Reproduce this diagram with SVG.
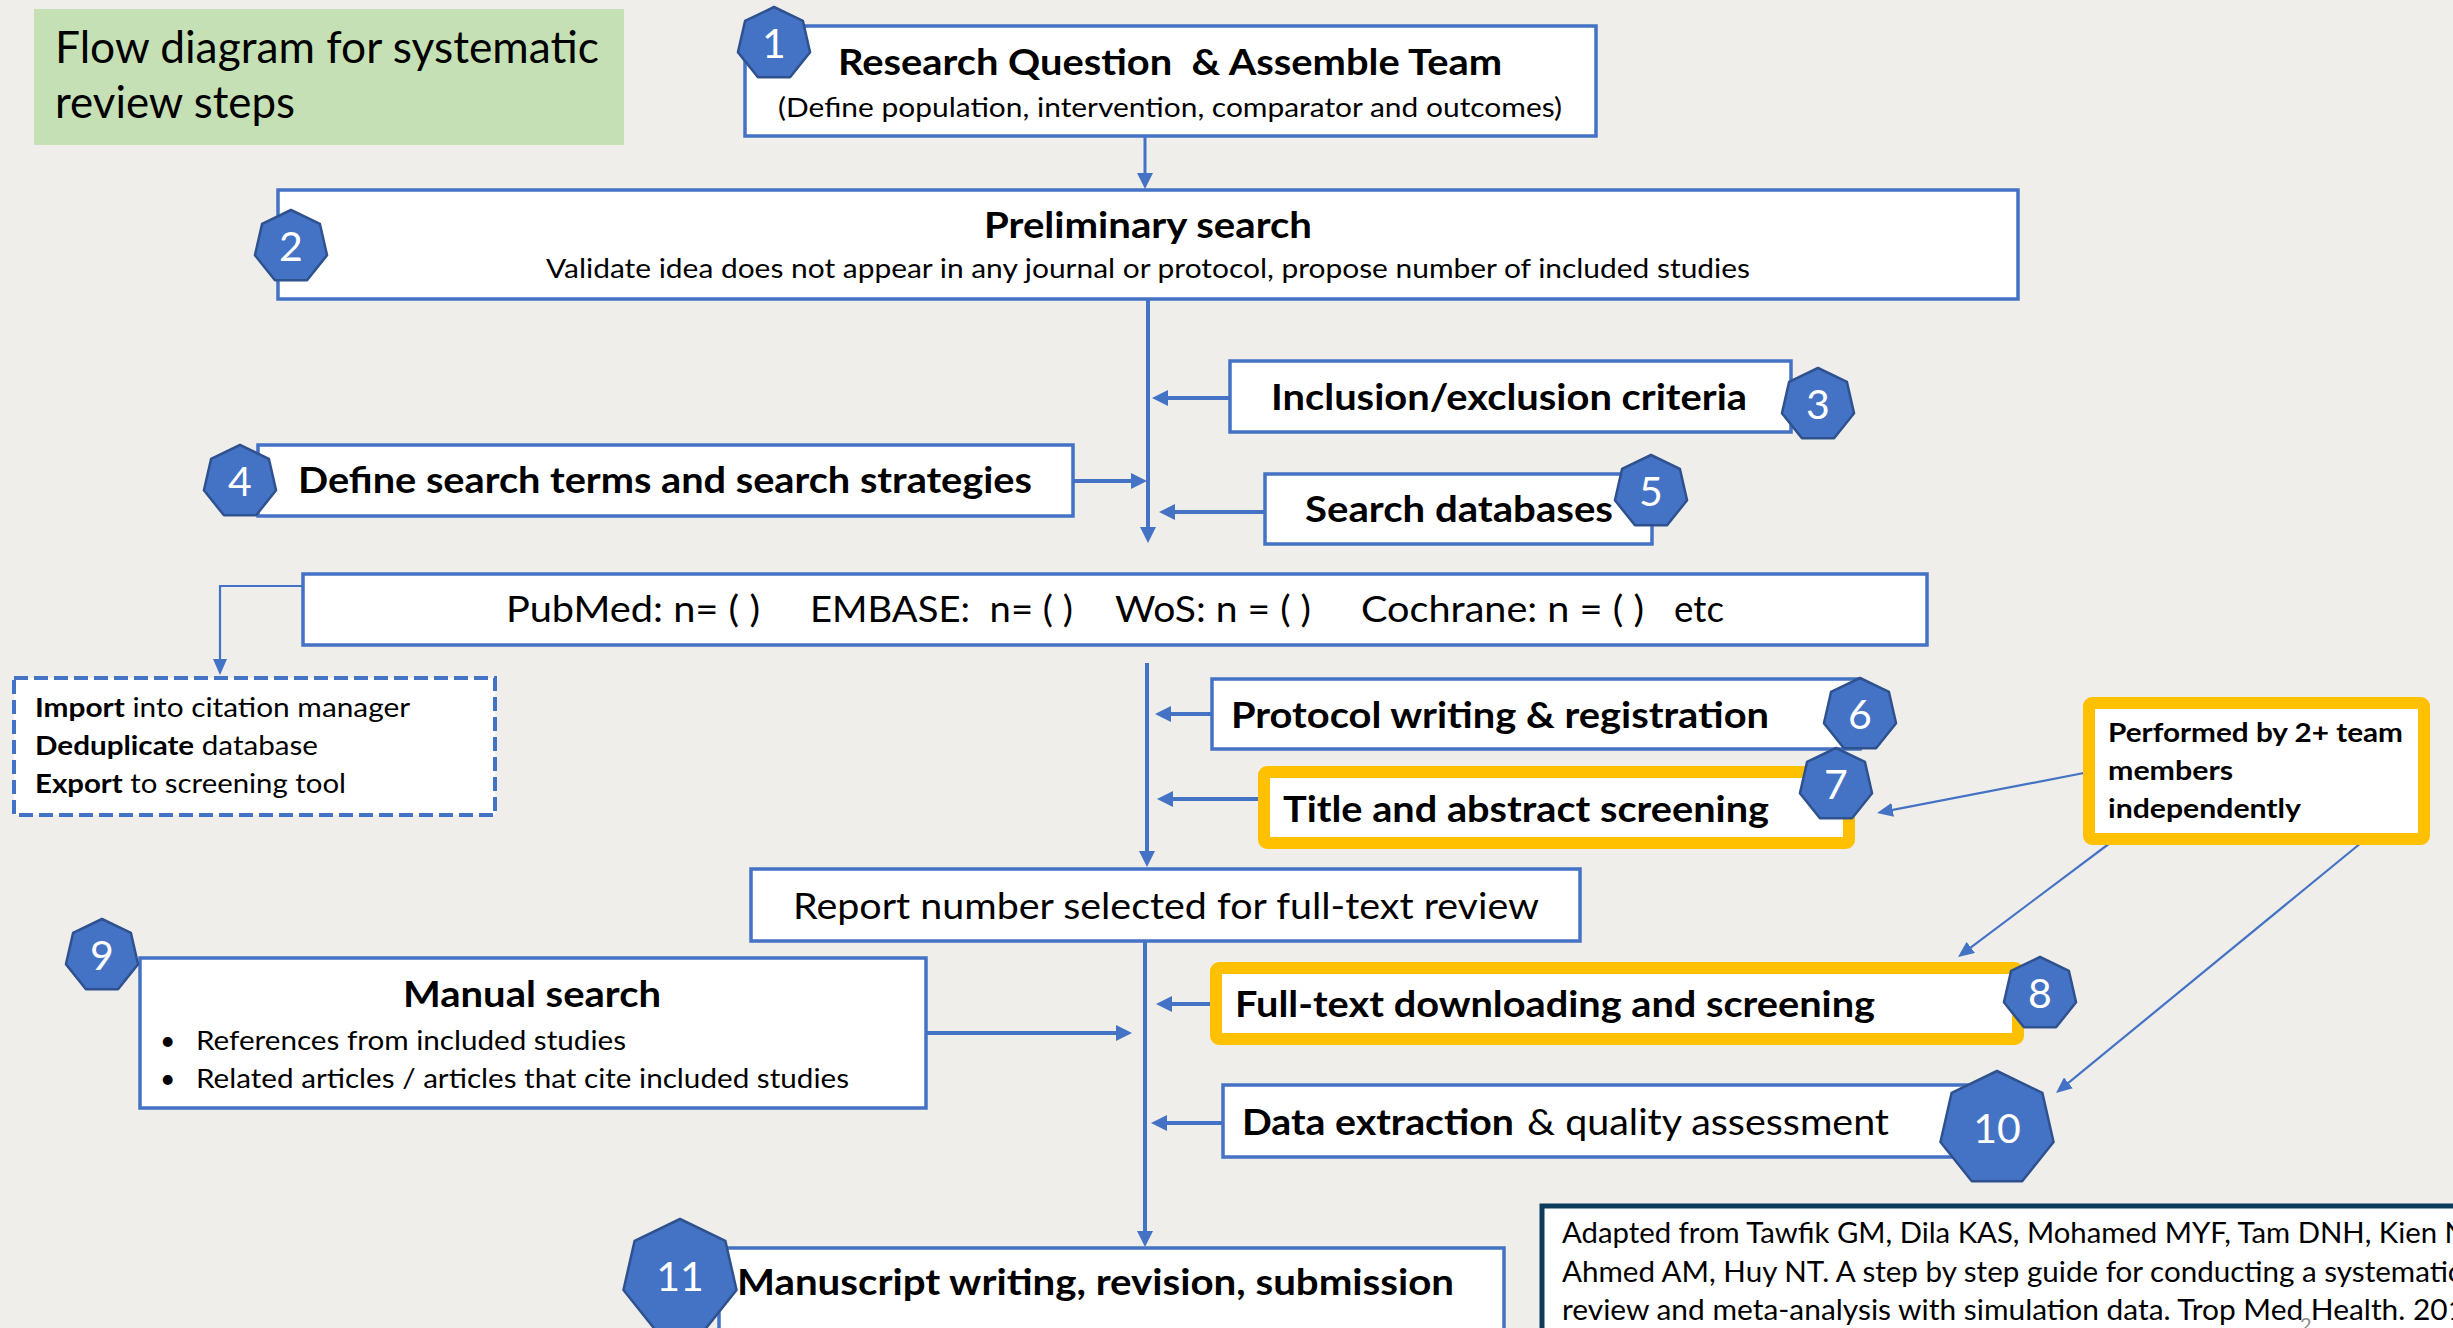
<svg xmlns="http://www.w3.org/2000/svg" width="2453" height="1328" viewBox="0 0 2453 1328">
<style>
.bx{fill:#fff;stroke:#4472C4;stroke-width:3.5}
.yb{fill:#fff;stroke:#FFC000;stroke-width:12}
.hp{fill:#4472C4;stroke:#2F528F;stroke-width:2.5;stroke-linejoin:round}
.num{font-family:Lato,"Open Sans","DejaVu Sans",sans-serif;font-size:41px;fill:#fff;text-anchor:middle}
.t{font-family:Lato,"Open Sans","DejaVu Sans",sans-serif;fill:#000}
.b{font-weight:700}
.l{font-size:37px}
.s{font-size:26.5px}
.c{fill:none;stroke:#4472C4;stroke-width:4}
.cn{fill:none;stroke:#4472C4;stroke-width:2.2}
</style>
<defs>
<marker id="ah" markerUnits="userSpaceOnUse" markerWidth="16" markerHeight="16" refX="6" refY="8" orient="auto"><path d="M0,0 L16,8 L0,16 z" fill="#4472C4"/></marker>
<marker id="ahs" markerUnits="userSpaceOnUse" markerWidth="16" markerHeight="14" refX="4" refY="7" orient="auto"><path d="M0,0 L16,7 L0,14 z" fill="#4472C4"/></marker>
<path id="hs" class="hp" d="M0,-37 L28.93,-23.07 L36.07,8.23 L16.05,33.34 L-16.05,33.34 L-36.07,8.23 L-28.93,-23.07 Z"/>
<path id="hb" class="hp" d="M0,-58 L45.35,-36.16 L56.55,12.91 L25.17,52.26 L-25.17,52.26 L-56.55,12.91 L-45.35,-36.16 Z"/>
</defs>
<rect width="2453" height="1328" fill="#EFEEEB"/>

<g id="title">
<rect x="34" y="9" width="590" height="136" fill="#C5E0B4"/>
<text class="t" x="55" y="63" font-size="44" textLength="544" lengthAdjust="spacingAndGlyphs">Flow diagram for systematic</text>
<text class="t" x="55" y="118" font-size="44" textLength="240" lengthAdjust="spacingAndGlyphs">review steps</text>
</g>

<g id="connectors">
<path class="c" style="stroke-width:3" d="M1145,136 V179" marker-end="url(#ah)"/>
<path class="c" d="M1148,299 V533" marker-end="url(#ah)"/>
<path class="c" d="M1230,398 H1162" marker-end="url(#ah)"/>
<path class="c" d="M1073,481 H1137" marker-end="url(#ah)"/>
<path class="c" d="M1265,512 H1169" marker-end="url(#ah)"/>
<path class="cn" d="M303,586 H220 V663" marker-end="url(#ahs)"/>
<path class="c" d="M1147,663 V857" marker-end="url(#ah)"/>
<path class="c" d="M1212,714 H1165" marker-end="url(#ah)"/>
<path class="c" d="M1258,799 H1167" marker-end="url(#ah)"/>
<path class="cn" d="M2089,772 L1888.8,810.7" marker-end="url(#ahs)"/>
<path class="cn" d="M2110,843 L1967.6,949.8" marker-end="url(#ahs)"/>
<path class="cn" d="M2367,838 L2065.3,1085.4" marker-end="url(#ahs)"/>
<path class="c" d="M1145,942 V1237" marker-end="url(#ah)"/>
<path class="c" d="M926,1033 H1122" marker-end="url(#ah)"/>
<path class="c" d="M1210,1004 H1166" marker-end="url(#ah)"/>
<path class="c" d="M1223,1123 H1161" marker-end="url(#ah)"/>
</g>

<g id="n1">
<rect class="bx" x="745" y="26" width="851" height="110"/>
<text class="t b l" x="838" y="75" textLength="664" lengthAdjust="spacingAndGlyphs" xml:space="preserve">Research Question  &amp; Assemble Team</text>
<text class="t s" x="778" y="117" textLength="784" lengthAdjust="spacingAndGlyphs">(Define population, intervention, comparator and outcomes)</text>
<use href="#hs" x="774" y="44"/>
<text class="num" x="774" y="58">1</text>
</g>

<g id="n2">
<rect class="bx" x="278" y="190" width="1740" height="109"/>
<text class="t b l" x="984" y="238" textLength="328" lengthAdjust="spacingAndGlyphs">Preliminary search</text>
<text class="t s" x="546" y="278" textLength="1204" lengthAdjust="spacingAndGlyphs">Validate idea does not appear in any journal or protocol, propose number of included studies</text>
<use href="#hs" x="291" y="247"/>
<text class="num" x="291" y="261">2</text>
</g>

<g id="n3">
<rect class="bx" x="1230" y="361" width="561" height="71"/>
<text class="t b l" x="1271" y="410" textLength="476" lengthAdjust="spacingAndGlyphs">Inclusion/exclusion criteria</text>
<use href="#hs" x="1818" y="405"/>
<text class="num" x="1818" y="419">3</text>
</g>

<g id="n4">
<rect class="bx" x="258" y="445" width="815" height="71"/>
<text class="t b l" x="298" y="493" textLength="734" lengthAdjust="spacingAndGlyphs">Define search terms and search strategies</text>
<use href="#hs" x="240" y="482"/>
<text class="num" x="240" y="496">4</text>
</g>

<g id="n5">
<rect class="bx" x="1265" y="474" width="387" height="70"/>
<text class="t b l" x="1305" y="522" textLength="308" lengthAdjust="spacingAndGlyphs">Search databases</text>
<use href="#hs" x="1651" y="492"/>
<text class="num" x="1651" y="506">5</text>
</g>

<g id="n-db">
<rect class="bx" x="303" y="574" width="1624" height="71"/>
<text class="t l" x="506" y="622" textLength="254" lengthAdjust="spacingAndGlyphs">PubMed: n= ( )</text>
<text class="t l" x="810" y="622" textLength="263" lengthAdjust="spacingAndGlyphs" xml:space="preserve">EMBASE:  n= ( )</text>
<text class="t l" x="1115" y="622" textLength="196" lengthAdjust="spacingAndGlyphs">WoS: n = ( )</text>
<text class="t l" x="1361" y="622" textLength="283" lengthAdjust="spacingAndGlyphs">Cochrane: n = ( )</text>
<text class="t l" x="1674" y="622" textLength="50" lengthAdjust="spacingAndGlyphs">etc</text>
</g>

<g id="n-import">
<rect x="14" y="678" width="481" height="137" fill="#fff" stroke="#4472C4" stroke-width="4" stroke-dasharray="14 6"/>
<text class="t s" x="35" y="717" textLength="375" lengthAdjust="spacingAndGlyphs"><tspan class="b">Import</tspan> into citation manager</text>
<text class="t s" x="35" y="755" textLength="283" lengthAdjust="spacingAndGlyphs"><tspan class="b">Deduplicate</tspan> database</text>
<text class="t s" x="35" y="793" textLength="311" lengthAdjust="spacingAndGlyphs"><tspan class="b">Export</tspan> to screening tool</text>
</g>

<g id="n6">
<rect class="bx" x="1212" y="679" width="648" height="70"/>
<text class="t b l" x="1231" y="728" textLength="538" lengthAdjust="spacingAndGlyphs">Protocol writing &amp; registration</text>
<use href="#hs" x="1860" y="715"/>
<text class="num" x="1860" y="729">6</text>
</g>

<g id="n7">
<rect class="yb" x="1264" y="772" width="585" height="71" rx="3"/>
<text class="t b l" x="1283" y="822" textLength="486" lengthAdjust="spacingAndGlyphs">Title and abstract screening</text>
<use href="#hs" x="1836" y="785"/>
<text class="num" x="1836" y="799">7</text>
</g>

<g id="n-performed">
<rect class="yb" x="2089" y="703" width="335" height="136" rx="3"/>
<text class="t b s" x="2108" y="742" textLength="295" lengthAdjust="spacingAndGlyphs">Performed by 2+ team</text>
<text class="t b s" x="2108" y="780" textLength="125" lengthAdjust="spacingAndGlyphs">members</text>
<text class="t b s" x="2108" y="818" textLength="193" lengthAdjust="spacingAndGlyphs">independently</text>
</g>

<g id="n-report">
<rect class="bx" x="751" y="869" width="829" height="72"/>
<text class="t l" x="793" y="919" textLength="746" lengthAdjust="spacingAndGlyphs">Report number selected for full-text review</text>
</g>

<g id="n9">
<rect class="bx" x="140" y="958" width="786" height="150"/>
<text class="t b l" x="403" y="1007" textLength="258" lengthAdjust="spacingAndGlyphs">Manual search</text>
<text class="t s" x="160" y="1050">•</text>
<text class="t s" x="196" y="1050" textLength="430" lengthAdjust="spacingAndGlyphs">References from included studies</text>
<text class="t s" x="160" y="1088">•</text>
<text class="t s" x="196" y="1088" textLength="653" lengthAdjust="spacingAndGlyphs">Related articles / articles that cite included studies</text>
<use href="#hs" x="102" y="956"/>
<text class="num" x="102" y="970">9</text>
</g>

<g id="n8">
<rect class="yb" x="1216" y="968" width="802" height="71" rx="3"/>
<text class="t b l" x="1235" y="1017" textLength="640" lengthAdjust="spacingAndGlyphs">Full-text downloading and screening</text>
<use href="#hs" x="2040" y="994"/>
<text class="num" x="2040" y="1008">8</text>
</g>

<g id="n10">
<rect class="bx" x="1223" y="1085" width="752" height="72"/>
<text class="t b l" x="1242" y="1135" textLength="272" lengthAdjust="spacingAndGlyphs">Data extraction</text>
<text class="t l" x="1527" y="1135" textLength="362" lengthAdjust="spacingAndGlyphs">&amp; quality assessment</text>
<use href="#hb" x="1997" y="1129"/>
<text class="num" x="1997" y="1143">10</text>
</g>

<g id="n11">
<rect class="bx" x="719" y="1248" width="785" height="100"/>
<text class="t b l" x="737" y="1295" textLength="717" lengthAdjust="spacingAndGlyphs">Manuscript writing, revision, submission</text>
<use href="#hb" x="680" y="1277"/>
<text class="num" x="680" y="1291">11</text>
</g>

<g id="citation">
<rect x="1542" y="1206" width="930" height="140" fill="#fff" stroke="#0D3B5B" stroke-width="5"/>
<text class="t" font-size="28" x="1562" y="1243" textLength="905" lengthAdjust="spacingAndGlyphs">Adapted from Tawfik GM, Dila KAS, Mohamed MYF, Tam DNH, Kien N</text>
<text class="t" font-size="28" x="1562" y="1282" textLength="900" lengthAdjust="spacingAndGlyphs">Ahmed AM, Huy NT. A step by step guide for conducting a systematic</text>
<text class="t" font-size="28" x="1562" y="1320" textLength="903" lengthAdjust="spacingAndGlyphs">review and meta-analysis with simulation data. Trop Med Health. 201</text>
<text x="2300" y="1332" font-family="Lato, sans-serif" font-size="20" fill="#8C8C8C">2</text>
</g>
</svg>
